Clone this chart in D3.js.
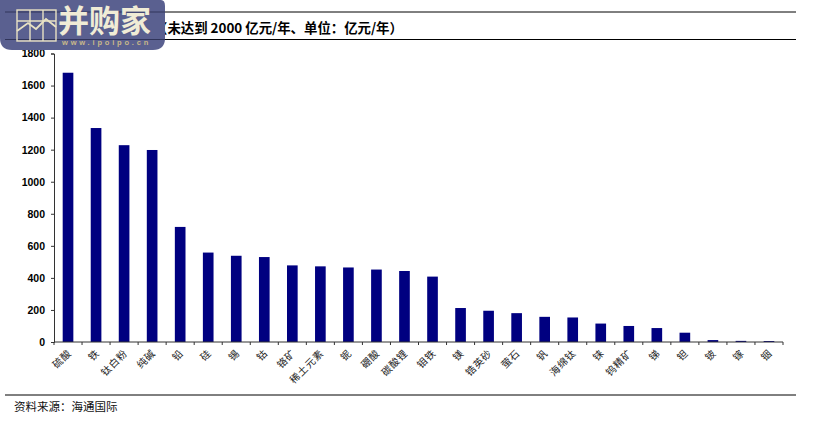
<!DOCTYPE html>
<html>
<head>
<meta charset="utf-8">
<script src="https://cdn.jsdelivr.net/npm/d3@7"></script>
<style>
  html, body { margin: 0; padding: 0; background: #fff; }
  svg { display: block; }
</style>
</head>
<body>
<div id="chart"></div>
<script>
const categories = ['硫酸','铁','钛白粉','纯碱','铅','硅','锡','钴','铬矿','稀土元素','铌','硼酸','碳酸锂','钼铁','镁','锆英砂','萤石','钒','海绵钛','铼','钨精矿','锑','钽','铍','镓','铟'];
const values = [1680,1335,1228,1198,718,558,538,530,478,472,465,452,443,408,212,195,180,157,153,115,100,87,58,12,7,6];
const yTicks = [0,200,400,600,800,1000,1200,1400,1600,1800];
const titleText = '（未达到 2000 亿元/年、单位：亿元/年）';
const sourceText = '资料来源：海通国际';
const logoName = '并购家';
const logoUrl = 'www.ipoipo.cn';

const width = 833, height = 430;
const cjk = '"Noto Sans CJK SC", sans-serif';

const svg = d3.select('#chart').append('svg')
  .attr('width', width)
  .attr('height', height);

// rules
[12, 39.5, 395].forEach(y => {
  svg.append('line')
    .attr('x1', 5).attr('x2', 796)
    .attr('y1', y).attr('y2', y)
    .attr('stroke', '#000').attr('stroke-width', 1);
});

svg.append('text')
  .attr('x', 154).attr('y', 33)
  .attr('font-family', cjk)
  .attr('font-size', 13.4)
  .attr('font-weight', 700)
  .text(titleText);

svg.append('text')
  .attr('x', 14).attr('y', 411)
  .attr('font-family', cjk)
  .attr('font-size', 11.5)
  .attr('fill', '#111')
  .text(sourceText);

// scales
const x = d3.scaleBand().domain(categories).range([54, 783]).paddingInner(0.62).paddingOuter(0.31);
const slot = d3.scaleBand().domain(categories).range([54, 783]);
const y = d3.scaleLinear().domain([0, 1800]).range([342, 53.5]);

// bars
svg.append('g').selectAll('rect')
  .data(categories)
  .join('rect')
  .attr('x', d => x(d))
  .attr('y', (d, i) => y(values[i]))
  .attr('width', x.bandwidth())
  .attr('height', (d, i) => y(0) - y(values[i]))
  .attr('fill', '#000080');

// y axis
const yAxis = svg.append('g')
  .attr('transform', 'translate(54,0)')
  .call(d3.axisLeft(y).tickValues(yTicks).tickSize(3).tickPadding(6).tickFormat(d3.format('d')));
yAxis.select('.domain').attr('stroke', '#333');
yAxis.selectAll('.tick line').attr('stroke', '#333');
yAxis.selectAll('text')
  .attr('font-family', 'Liberation Sans, Arial, sans-serif')
  .attr('font-size', 10.5)
  .attr('font-weight', 700)
  .attr('fill', '#000');

// x axis: ticks between the categories
const xAxis = svg.append('g').attr('transform', 'translate(0,342)');
xAxis.append('line')
  .attr('x1', 54).attr('x2', 783)
  .attr('stroke', '#333');
xAxis.selectAll('line.t')
  .data(categories.concat(['end']))
  .join('line')
  .attr('class', 't')
  .attr('x1', (d, i) => slot(categories[0]) + i * slot.step())
  .attr('x2', (d, i) => slot(categories[0]) + i * slot.step())
  .attr('y1', 0).attr('y2', 3)
  .attr('stroke', '#333');
xAxis.selectAll('text')
  .data(categories)
  .join('text')
  .attr('transform', d => `translate(${slot(d) + slot.step() / 2 - 1},7) rotate(-45)`)
  .attr('text-anchor', 'end')
  .attr('dy', '0.7em')
  .attr('font-family', cjk)
  .attr('font-size', 10)
  .attr('letter-spacing', 0.7)
  .attr('fill', '#222')
  .text(d => d);

// watermark badge, top left
const badge = svg.append('g');
badge.append('path')
  .attr('d', 'M0,0H161Q165,0 165,6V38Q165,50 153,50H12Q0,50 0,38Z')
  .attr('fill', '#5a6090');
[12, 39.5].forEach(v => {
  badge.append('line').attr('x1', 5).attr('x2', 165).attr('y1', v).attr('y2', v)
    .attr('stroke', '#30345a').attr('stroke-width', 1);
});
const grid = badge.append('g').attr('fill', 'none').attr('stroke', '#e8e2c4').attr('stroke-width', 1.4);
grid.append('rect').attr('x', 17).attr('y', 10).attr('width', 39).attr('height', 31);
[30, 43].forEach(v => grid.append('line').attr('x1', v).attr('x2', v).attr('y1', 10).attr('y2', 41));
[21].forEach(v => grid.append('line').attr('x1', 17).attr('x2', 56).attr('y1', v).attr('y2', v));
grid.append('polyline').attr('points', '17,31 28,23 36,29 46,19 56,27').attr('stroke-width', 1.8);
badge.append('text')
  .attr('x', 58).attr('y', 32)
  .attr('font-family', cjk).attr('font-size', 31).attr('font-weight', 700)
  .attr('fill', '#f0ecd6')
  .text(logoName);
badge.append('text')
  .attr('x', 62).attr('y', 45)
  .attr('font-family', 'Liberation Sans, Arial, sans-serif').attr('font-size', 7.5).attr('font-weight', 700)
  .attr('letter-spacing', 2.8)
  .attr('fill', '#c9b98a')
  .text(logoUrl);
</script>
</body>
</html>
